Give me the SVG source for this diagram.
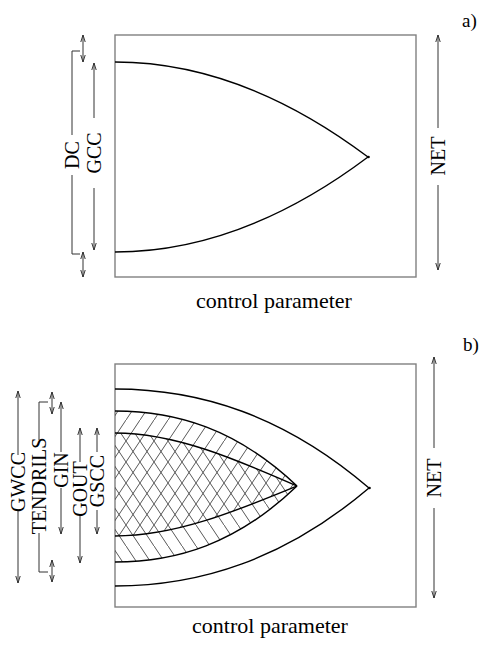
<svg xmlns="http://www.w3.org/2000/svg" width="491" height="653" viewBox="0 0 491 653">
<style>
.box{fill:none;stroke:#808080;stroke-width:1.4}
.crv{fill:none;stroke:#000;stroke-width:1.4}
.arr{fill:none;stroke:#333;stroke-width:1}
.dbl{fill:none;stroke:#333;stroke-width:1;marker-start:url(#ah);marker-end:url(#ah)}
.one{fill:none;stroke:#333;stroke-width:1;marker-end:url(#ah)}
.lbl{font-family:"Liberation Serif","Times New Roman",serif;font-size:20px;fill:#000;text-anchor:middle}
.cap{font-family:"Liberation Serif","Times New Roman",serif;font-size:22px;fill:#000;text-anchor:middle}
.tag{font-family:"Liberation Serif","Times New Roman",serif;font-size:19px;fill:#000}
</style>
<defs>
<marker id="ah" viewBox="-8 -4 10 8" refX="0" refY="0" markerWidth="10" markerHeight="8" markerUnits="userSpaceOnUse" orient="auto-start-reverse">
<path d="M-7,-2.2 L0,0 L-7,2.2" fill="none" stroke="#333" stroke-width="1"/>
</marker>
<pattern id="hatchR" patternUnits="userSpaceOnUse" width="14" height="21">
<path d="M-1,22.5 L15,-1.5" stroke="#444" stroke-width="0.9" fill="none"/>
</pattern>
<pattern id="hatchL" patternUnits="userSpaceOnUse" width="14" height="21">
<path d="M-1,-1.5 L15,22.5" stroke="#444" stroke-width="0.9" fill="none"/>
</pattern>
<clipPath id="ginClip">
<path d="M115,411 C175.7,411 236.3,428.5 297,486 C236.3,511 175.7,536 115,536 Z"/>
</clipPath>
<clipPath id="goutClip">
<path d="M115,433 C175.7,433 236.3,459.5 297,486 C236.3,544.3 175.7,562 115,562 Z"/>
</clipPath>
</defs>

<g id="panel-a">
<rect class="box" x="115" y="35" width="301" height="242"/>
<path class="crv" d="M115,62 C199.3,62 283.7,93.7 368,157"/>
<path class="crv" d="M115,252 C199.3,252 283.7,220.3 368,157"/>
<circle cx="368.5" cy="157" r="1.3" fill="#000"/>
<text class="tag" x="462" y="27">a)</text>
<text class="cap" x="274" y="308">control parameter</text>
</g>

<g id="panel-b">
<rect class="box" x="115" y="364" width="301" height="243"/>
<rect x="115" y="400" width="190" height="170" fill="url(#hatchR)" clip-path="url(#ginClip)"/>
<rect x="115" y="400" width="190" height="170" fill="url(#hatchL)" clip-path="url(#goutClip)"/>
<path class="crv" d="M115,389 C199.7,389 284.3,415.4 369,488"/>
<path class="crv" d="M115,586 C199.7,586 284.3,559.8 369,488"/>
<circle cx="369.5" cy="488" r="1.3" fill="#000"/>
<path class="crv" d="M115,411 C175.7,411 236.3,428.5 297,486"/>
<path class="crv" d="M115,562 C175.7,562 236.3,544.3 297,486"/>
<path class="crv" d="M115,433 C175.7,433 236.3,459.5 297,486"/>
<path class="crv" d="M115,536 C175.7,536 236.3,511 297,486"/>
<text class="tag" x="463" y="351">b)</text>
<text class="cap" x="270" y="633">control parameter</text>
</g>

<g id="connectors">
<path class="arr" d="M80,51 H72 V135 M72,175 V254 H80"/>
<path class="dbl" d="M83,35 V62"/>
<path class="dbl" d="M83,252 V277"/>
<path class="one" d="M94,118 V63"/>
<path class="one" d="M94,188 V250"/>
<path class="one" d="M438,128 V35"/>
<path class="one" d="M438,185 V270"/>
<path class="one" d="M18,455 V391"/>
<path class="one" d="M18,510 V583"/>
<path class="arr" d="M48,402 H39 V440 M39,533 V572 H48"/>
<path class="dbl" d="M52,392 V414"/>
<path class="dbl" d="M52,560 V582"/>
<path class="one" d="M61,452 V402"/>
<path class="one" d="M61,488 V534"/>
<path class="one" d="M80,462 V428"/>
<path class="one" d="M80,515 V563"/>
<path class="one" d="M97,452 V428"/>
<path class="one" d="M97,510 V534"/>
<path class="one" d="M434,448 V357"/>
<path class="one" d="M434,508 V598"/>
</g>

<g id="labels">
<text class="lbl" transform="translate(72,155) rotate(-90)" dy="0.35em">DC</text>
<text class="lbl" transform="translate(94,153) rotate(-90)" dy="0.35em">GCC</text>
<text class="lbl" transform="translate(438,156) rotate(-90)" dy="0.35em">NET</text>
<text class="lbl" transform="translate(18,482) rotate(-90)" dy="0.35em">GWCC</text>
<text class="lbl" transform="translate(39,486) rotate(-90)" dy="0.35em">TENDRILS</text>
<text class="lbl" transform="translate(61,470) rotate(-90)" dy="0.35em">GIN</text>
<text class="lbl" transform="translate(80,489) rotate(-90)" dy="0.35em">GOUT</text>
<text class="lbl" transform="translate(97,481) rotate(-90)" dy="0.35em">GSCC</text>
<text class="lbl" transform="translate(434,478) rotate(-90)" dy="0.35em">NET</text>
</g>
</svg>
